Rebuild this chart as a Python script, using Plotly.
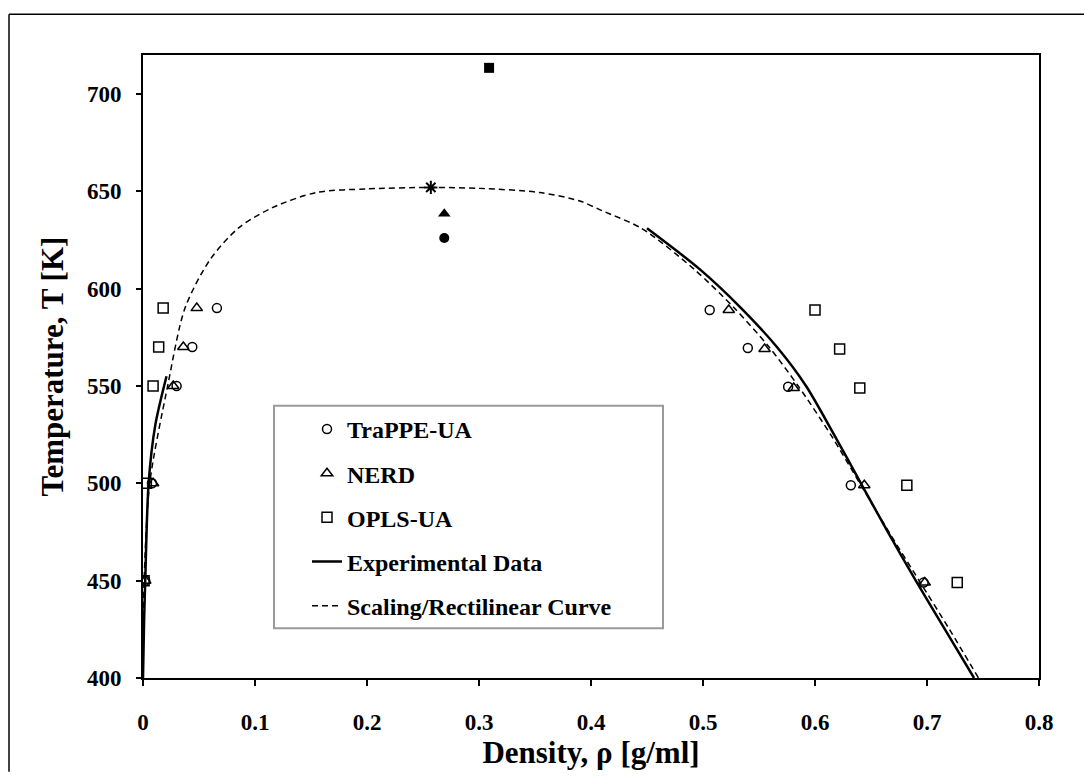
import plotly.graph_objects as go

# ---------------- data ----------------
trappe_rho = [0.002, 0.008, 0.030, 0.044, 0.066, 0.506, 0.540, 0.576, 0.632, 0.697]
trappe_T   = [450, 500, 550, 570, 590, 589, 569.5, 549.6, 499, 449]

nerd_rho = [0.002, 0.009, 0.027, 0.036, 0.048, 0.523, 0.555, 0.581, 0.644, 0.698]
nerd_T   = [450, 500, 550, 570, 590, 589, 569, 549, 499, 449]

opls_rho = [0.001, 0.003, 0.009, 0.014, 0.018, 0.600, 0.622, 0.640, 0.682, 0.727]
opls_T   = [450, 500, 550, 570, 590, 589, 569, 549, 499, 449]

# critical point estimates (filled symbols) and scaling critical point (star)
crit_trappe = (0.269, 626)
crit_nerd = (0.269, 638.5)
crit_opls = (0.309, 713.4)
crit_scaling = (0.257, 652)

# experimental coexistence curve (two branches)
exp_liq_rho = [0.000, 0.001, 0.002, 0.005, 0.011, 0.021]
exp_liq_T   = [400, 430, 450, 500, 530, 555]
exp_vap_rho = [0.450, 0.497, 0.534, 0.566, 0.592, 0.617, 0.641, 0.665, 0.690, 0.716, 0.742]
exp_vap_T   = [631, 610, 590, 570, 550, 525, 500, 475, 450, 425, 400]

# scaling / rectilinear curve
scal_rho = [0.000, 0.001, 0.006, 0.022, 0.0375, 0.060, 0.086, 0.116, 0.155, 0.200, 0.257,
            0.300, 0.354, 0.390, 0.410, 0.445, 0.492, 0.528, 0.559, 0.585, 0.614, 0.640,
            0.666, 0.693, 0.720, 0.746]
scal_T   = [400, 450, 500, 550, 590, 615, 631.5, 641.7, 649.4, 651.2, 652,
            651.5, 649.4, 645, 640, 631, 610, 590, 570, 550, 525, 500,
            475, 450, 425, 400]

x_ticks = [0, 0.1, 0.2, 0.3, 0.4, 0.5, 0.6, 0.7, 0.8]
x_ticklabels = ["0", "0.1", "0.2", "0.3", "0.4", "0.5", "0.6", "0.7", "0.8"]
y_ticks = [400, 450, 500, 550, 600, 650, 700]

# ---------------- figure ----------------
SERIF = "Liberation Serif, Times New Roman, serif"
fig = go.Figure()

mk_line = dict(color="black", width=1.5)
fig.add_trace(go.Scatter(x=trappe_rho, y=trappe_T, mode="markers", name="TraPPE-UA",
                         legendgroup="a",
                         marker=dict(symbol="circle-open", size=9, color="black", line=mk_line)))
fig.add_trace(go.Scatter(x=nerd_rho, y=nerd_T, mode="markers", name="NERD",
                         legendgroup="b",
                         marker=dict(symbol="triangle-up-open", size=10, color="black", line=mk_line)))
fig.add_trace(go.Scatter(x=opls_rho, y=opls_T, mode="markers", name="OPLS-UA",
                         legendgroup="c",
                         marker=dict(symbol="square-open", size=10, color="black", line=mk_line)))

exp_x = exp_liq_rho + [None] + exp_vap_rho
exp_y = exp_liq_T + [None] + exp_vap_T
fig.add_trace(go.Scatter(x=exp_x, y=exp_y, mode="lines", name="Experimental Data",
                         legendgroup="d", connectgaps=False,
                         line=dict(color="black", width=2.5, shape="spline", smoothing=0.8)))
fig.add_trace(go.Scatter(x=scal_rho, y=scal_T, mode="lines", name="Scaling/Rectilinear Curve",
                         legendgroup="e",
                         line=dict(color="black", width=1.5, dash="6px,4px", shape="spline", smoothing=0.8)))

fig.add_trace(go.Scatter(x=[crit_trappe[0]], y=[crit_trappe[1]], mode="markers", showlegend=False,
                         marker=dict(symbol="circle", size=10, color="black")))
fig.add_trace(go.Scatter(x=[crit_nerd[0]], y=[crit_nerd[1]], mode="markers", showlegend=False,
                         marker=dict(symbol="triangle-up", size=11, color="black")))
fig.add_trace(go.Scatter(x=[crit_opls[0]], y=[crit_opls[1]], mode="markers", showlegend=False,
                         marker=dict(symbol="square", size=10, color="black")))
fig.add_trace(go.Scatter(x=[crit_scaling[0]], y=[crit_scaling[1]], mode="markers", showlegend=False,
                         marker=dict(symbol="asterisk-open", size=11, color="black",
                                     line=dict(color="black", width=2))))

L, R, T, B = 143, 1039, 55, 680
W, H = R - L, B - T
def xp(p):
    return (p - L) / W
def yp(p):
    return (B - p) / H

shapes = [
    # legend box
    dict(type="rect", xref="paper", yref="paper", x0=xp(274), x1=xp(663), y0=yp(630), y1=yp(407),
         line=dict(color="#9a9a9a", width=2), fillcolor="white", layer="below"),
    # outer frame
    dict(type="line", xref="paper", yref="paper", x0=xp(9), x1=xp(9), y0=yp(774), y1=yp(14),
         line=dict(color="black", width=1.5)),
    dict(type="line", xref="paper", yref="paper", x0=xp(9), x1=xp(1084), y0=yp(14), y1=yp(14),
         line=dict(color="black", width=1.5)),
]

tickfont = dict(family=SERIF, size=23, color="black", weight="bold")
fig.update_layout(
    width=1085, height=776,
    margin=dict(l=L, r=1085 - R, t=T, b=776 - B),
    paper_bgcolor="white", plot_bgcolor="white",
    shapes=shapes,
    showlegend=True,
    legend=dict(x=xp(307), y=yp(408), xanchor="left", yanchor="top",
                bgcolor="rgba(0,0,0,0)", borderwidth=0, tracegroupgap=10,
                traceorder="grouped",
                font=dict(family=SERIF, size=24, color="black", weight="bold")),
    xaxis=dict(range=[0, 0.8], tickvals=x_ticks, ticktext=x_ticklabels,
               showgrid=False, zeroline=False, showline=True, linecolor="black", linewidth=2,
               mirror=True, ticks="outside", ticklen=6, tickwidth=1.5, tickcolor="black",
               tickfont=tickfont, ticklabelstandoff=16,
               title=dict(text="Density, ρ [g/ml]", standoff=8,
                          font=dict(family=SERIF, size=31, color="black", weight="bold"))),
    yaxis=dict(range=[400, 720], tickvals=y_ticks,
               showgrid=False, zeroline=False, showline=True, linecolor="black", linewidth=2,
               mirror=True, ticks="outside", ticklen=5, tickwidth=1.5, tickcolor="black",
               tickfont=tickfont, ticklabelstandoff=10,
               title=dict(text="Temperature, T [K]", standoff=14,
                          font=dict(family=SERIF, size=31, color="black", weight="bold"))),
)

fig.write_html("out.html")
